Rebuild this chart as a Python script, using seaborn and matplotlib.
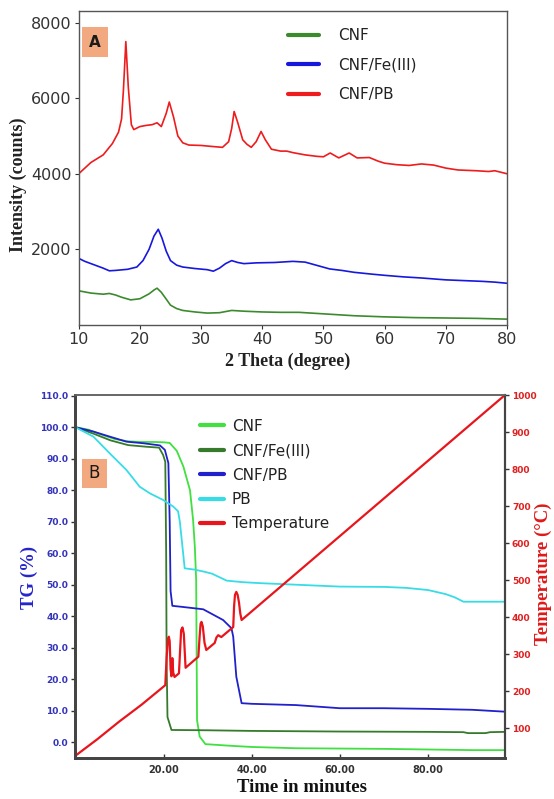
import matplotlib
matplotlib.use("Agg")
import matplotlib.pyplot as plt
import seaborn as sns
from matplotlib.patches import Rectangle

# ---------------- Panel A : XRD ----------------
cnf_2theta = [10, 12, 14, 15, 16, 17, 18.5, 20, 21.5, 22.3, 22.8, 23.5, 24.3, 25, 26, 27, 29, 31, 33,
              35, 37, 40, 43, 46, 49, 52, 55, 60, 65, 70, 75, 80]
cnf_counts = [900, 840, 810, 830, 790, 730, 660, 690, 820, 920, 970, 860, 680, 520, 430, 380, 340, 310, 320,
              380, 360, 340, 330, 330, 300, 270, 240, 210, 190, 180, 170, 150]

fe_2theta = [10, 11, 12, 14, 15, 16, 18, 19.5, 20.5, 21.5, 22.3, 23.0, 23.6, 24.3, 25, 26, 27, 29, 31, 32,
             33, 34, 35, 36, 37, 39, 42, 45, 47, 49, 51, 53, 55, 58, 60, 63, 66, 70, 73, 76, 78, 80]
fe_counts = [1760, 1680, 1620, 1500, 1430, 1440, 1470, 1530, 1700, 2000, 2350, 2530, 2300, 1950, 1700, 1580,
             1530, 1490, 1460, 1420, 1500, 1620, 1700, 1650, 1620, 1640, 1650, 1680, 1660, 1570, 1480, 1440,
             1390, 1340, 1310, 1270, 1240, 1190, 1170, 1150, 1130, 1100]

pb_2theta = [10, 12, 14, 15.5, 16.5, 17.0, 17.3, 17.7, 18.1, 18.6, 19, 20, 21, 22, 22.8, 23.5, 24.3, 24.8,
             25.5, 26.2, 27, 28, 30, 32, 33.5, 34.5, 35.0, 35.4, 36.0, 36.8, 37.5, 38.2, 39.0, 39.8, 40.5,
             41.5, 43, 44, 45, 47, 49, 50, 51.1, 52.5, 54.2, 55.5, 57.5, 59, 60, 62, 64, 66, 68, 70, 72,
             75, 77, 78, 80]
pb_counts = [4000, 4300, 4500, 4800, 5100, 5450, 6200, 7500, 6300, 5300, 5170, 5250, 5280, 5300, 5350, 5250,
             5600, 5900, 5500, 5000, 4820, 4760, 4750, 4720, 4700, 4850, 5200, 5650, 5350, 4900, 4780, 4700,
             4850, 5120, 4900, 4650, 4600, 4600, 4560, 4500, 4460, 4450, 4550, 4420, 4550, 4420, 4430, 4330,
             4280, 4240, 4220, 4260, 4230, 4150, 4100, 4080, 4060, 4080, 4000]

xrd_xticks = [10, 20, 30, 40, 50, 60, 70, 80]
xrd_yticks = [2000, 4000, 6000, 8000]

# ---------------- Panel B : TGA ----------------
tg_cnf_time = [0, 3, 6, 9, 12, 15, 18, 20, 21.4, 23, 24.5, 26, 26.7, 27.1, 27.4, 27.6, 28.2, 29.5, 35, 40,
               50, 60, 70, 80, 90, 97.4]
tg_cnf_pct = [100, 99.2, 97.6, 96.2, 95.5, 95.3, 95.3, 95.2, 95.0, 92.5, 87.5, 80, 70.6, 62, 51.5, 7, 1.8,
              -0.6, -1.1, -1.5, -1.9, -2.0, -2.1, -2.3, -2.5, -2.5]

tg_fe_time = [0, 4, 8, 12, 16, 19, 19.9, 20.4, 20.6, 20.7, 20.9, 21.8, 30, 40, 60, 80, 88, 89, 93, 94, 97.4]
tg_fe_pct = [100, 98.0, 95.8, 94.3, 93.8, 93.5, 91.2, 89, 60, 26, 8, 3.9, 3.8, 3.6, 3.4, 3.3, 3.2, 2.9, 2.9,
             3.2, 3.3]

tg_cnfpb_time = [0, 4.1, 7.8, 11.6, 15.4, 19.2, 20.3, 21.1, 21.4, 21.6, 22.0, 24, 29, 33.5, 35.4, 35.8, 36.5,
                 37.7, 40, 50, 60, 70, 80, 90, 97.4]
tg_cnfpb_pct = [100, 98.6, 97.0, 95.4, 94.9, 94.2, 92.8, 88.6, 70, 48, 43.3, 43.0, 42.2, 38.8, 36.2, 33.5,
                20.8, 12.4, 12.2, 11.8, 10.8, 10.8, 10.6, 10.3, 9.7]

tg_pb_time = [0, 4.1, 7.8, 11.6, 14.6, 16.9, 19.9, 22.2, 23.3, 23.7, 24.8, 27, 29, 31, 34.3, 38, 41.8, 50,
              60, 70, 75, 80, 84, 86, 88, 97.4]
tg_pb_pct = [100, 97.0, 91.7, 86.4, 81.1, 79.0, 76.9, 74.8, 73.3, 70, 55.2, 54.8, 54.2, 53.5, 51.3, 50.8,
             50.5, 50.0, 49.4, 49.3, 49.0, 48.3, 47.0, 46.0, 44.6, 44.6]

temp_time = [0, 5, 10, 15, 20, 20.4, 20.7, 21.0, 21.2, 21.4, 21.6, 21.8, 22.0, 22.2, 22.5, 23.5, 23.8, 24.0,
             24.3, 24.6, 25.0, 27.9, 28.2, 28.4, 28.6, 28.9, 29.3, 29.7, 31.6, 32.0, 32.4, 32.8, 33.1, 35.8,
             36.0, 36.2, 36.5, 36.8, 37.1, 37.4, 37.7, 97.4]
temp_c = [25, 70, 118, 163, 212, 216, 290, 340, 347, 335, 260, 240, 289, 250, 238, 248, 320, 365, 372, 355,
          263, 293, 350, 382, 387, 375, 330, 311, 330, 345, 351, 348, 346, 373, 430, 460, 468, 460, 440, 410,
          392, 1000]

tg_ticks = [0, 10, 20, 30, 40, 50, 60, 70, 80, 90, 100, 110]
temp_ticks = [100, 200, 300, 400, 500, 600, 700, 800, 900, 1000]
time_ticks = [20, 40, 60, 80]

# ---------------- style ----------------
sns.set_style("white")
plt.rcParams["font.family"] = ["DejaVu Sans"]
SERIF = ["Liberation Serif", "DejaVu Serif"]

fig = plt.figure(figsize=(5.54, 7.99), dpi=100)
axA = fig.add_axes([0.1421, 0.5935, 0.7731, 0.3927])
axB = fig.add_axes([0.1359, 0.0517, 0.7756, 0.4539])

# ---- Panel A ----
sns.lineplot(x=cnf_2theta, y=cnf_counts, ax=axA, color="#3C8A2E", lw=1.2, label="CNF", legend=False)
sns.lineplot(x=fe_2theta, y=fe_counts, ax=axA, color="#1818DD", lw=1.2, label="CNF/Fe(III)", legend=False)
sns.lineplot(x=pb_2theta, y=pb_counts, ax=axA, color="#EE1C1C", lw=1.2, label="CNF/PB", legend=False)
axA.set_xlim(10, 80)
axA.set_ylim(0, 8310)
axA.set_xticks(xrd_xticks)
axA.set_yticks(xrd_yticks)
axA.tick_params(axis="both", direction="out", length=3, width=0.8, labelsize=11.5, pad=2,
                colors="#333333", left=True, bottom=True)
for s in axA.spines.values():
    s.set_color("#555555")
    s.set_linewidth(1.0)
axA.set_xlabel("2 Theta (degree)", family=SERIF, fontweight="bold", fontsize=13, color="#222222")
axA.set_ylabel("Intensity (counts)", family=SERIF, fontweight="bold", fontsize=13, color="#222222")
axA.xaxis.set_label_coords(0.487, -0.115)
axA.xaxis.label.set_va("center")
axA.yaxis.set_label_coords(-0.142, 0.445)
axA.yaxis.label.set_va("center")
legA = axA.legend(handles=axA.get_lines(), loc="upper left", bbox_to_anchor=(0.489, 0.945),
                  frameon=False, fontsize=11, handlelength=2.0, handletextpad=1.3,
                  labelspacing=0.95, borderpad=0, borderaxespad=0)
for ln in legA.get_lines():
    ln.set_linewidth(3)
for t in legA.get_texts():
    t.set_color("#222222")

# ---- Panel B ----
sns.lineplot(x=tg_cnf_time, y=tg_cnf_pct, ax=axB, color="#3FE03F", lw=1.3, label="CNF", legend=False)
sns.lineplot(x=tg_fe_time, y=tg_fe_pct, ax=axB, color="#367A2C", lw=1.3, label="CNF/Fe(III)", legend=False)
sns.lineplot(x=tg_cnfpb_time, y=tg_cnfpb_pct, ax=axB, color="#2020CC", lw=1.3, label="CNF/PB", legend=False)
sns.lineplot(x=tg_pb_time, y=tg_pb_pct, ax=axB, color="#38DCE6", lw=1.3, label="PB", legend=False)
axB.set_xlim(0, 97.4)
axB.set_ylim(-4.9, 110.2)
axB.set_xticks(time_ticks)
axB.set_xticklabels([f"{v:.2f}" for v in time_ticks])
axB.set_yticks(tg_ticks)
axB.set_yticklabels([f"{v:.1f}" for v in tg_ticks])
axB.tick_params(axis="y", direction="out", length=3, width=1, labelsize=6.5, pad=2,
                colors="#333333", labelcolor="#3333BB", left=True)
axB.tick_params(axis="x", direction="in", length=3, width=1, labelsize=7, pad=5,
                colors="#333333", bottom=True)
for lab in axB.get_yticklabels() + axB.get_xticklabels():
    lab.set_fontweight("bold")

axT = axB.twinx()
sns.lineplot(x=temp_time, y=temp_c, ax=axT, color="#E8161C", lw=1.6, label="Temperature", legend=False)
axT.set_ylim(20, 1000)
axT.set_yticks(temp_ticks)
axT.tick_params(axis="y", direction="out", length=3, width=1, labelsize=6.5, pad=2,
                colors="#333333", labelcolor="#E02020", right=True)
for lab in axT.get_yticklabels():
    lab.set_fontweight("bold")

for ax in (axB, axT):
    ax.spines["left"].set_color("#444444")
    ax.spines["left"].set_linewidth(2.0)
    ax.spines["bottom"].set_color("#444444")
    ax.spines["bottom"].set_linewidth(2.0)
    ax.spines["top"].set_color("#666666")
    ax.spines["top"].set_linewidth(1.2)
    ax.spines["right"].set_color("#444444")
    ax.spines["right"].set_linewidth(1.5)

axB.set_xlabel("Time in minutes", family=SERIF, fontweight="bold", fontsize=13.5, color="#111111")
axB.set_ylabel("TG (%)", family=SERIF, fontweight="bold", fontsize=13.5, color="#2424CC")
axT.set_ylabel("Temperature (°C)", family=SERIF, fontweight="bold", fontsize=13.5, color="#E01818")
axB.xaxis.set_label_coords(0.528, -0.083)
axB.xaxis.label.set_va("center")
axB.yaxis.set_label_coords(-0.108, 0.498)
axB.yaxis.label.set_va("center")
axT.yaxis.set_label_coords(1.09, 0.508)
axT.yaxis.label.set_va("center")

handlesB = axB.get_lines() + axT.get_lines()
legB = axT.legend(handles=handlesB, loc="upper left", bbox_to_anchor=(0.29, 0.935),
                  frameon=False, fontsize=11, handlelength=1.6, handletextpad=0.5,
                  labelspacing=0.62, borderpad=0, borderaxespad=0)
for ln in legB.get_lines():
    ln.set_linewidth(3)
for t in legB.get_texts():
    t.set_color("#222222")

# Panel letters
fig.add_artist(Rectangle((0.1475, 0.9283), 0.0469, 0.0376, transform=fig.transFigure,
                         facecolor="#F2A97F", edgecolor="none"))
fig.text(0.1709, 0.9471, "A", ha="center", va="center", fontsize=11, fontweight="bold", color="#1A1A1A")
fig.add_artist(Rectangle((0.1475, 0.3896), 0.0451, 0.0359, transform=fig.transFigure,
                         facecolor="#F2A97F", edgecolor="none"))
fig.text(0.1700, 0.4076, "B", ha="center", va="center", fontsize=12, color="#1A1A1A")

fig.savefig("out.png", dpi=100)
